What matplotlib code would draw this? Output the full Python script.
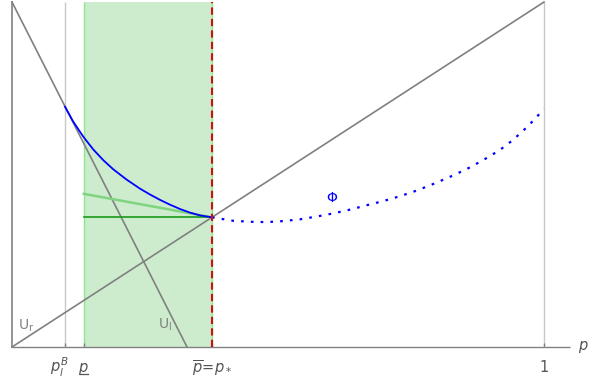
import numpy as np
import matplotlib
matplotlib.use("Agg")
import matplotlib.pyplot as plt

plt.rcParams["mathtext.fontset"] = "dejavusans"

# key points on the p axis
p_lB = 0.0996
p_low = 0.135
p_star = 0.376
p_ul_zero = 0.329

# Phi on [p_lB, p_star] (solid) and beyond (dotted)
phi_solid_p = [0.0996, 0.1152, 0.1340, 0.1528, 0.1716, 0.1904, 0.2156, 0.2406, 0.2594,
               0.2782, 0.2970, 0.3158, 0.3346, 0.3534, 0.3760]
phi_solid_y = [0.6965, 0.6530, 0.6096, 0.5725, 0.5415, 0.5150, 0.4850, 0.4590, 0.4420,
               0.4265, 0.4125, 0.4000, 0.3895, 0.3815, 0.3759]
phi_dot_p = [0.376, 0.415, 0.447, 0.479, 0.510, 0.541, 0.572, 0.603, 0.635, 0.667, 0.698,
             0.729, 0.760, 0.791, 0.823, 0.855, 0.886, 0.917, 0.940, 0.961, 0.981, 1.0]
phi_dot_y = [0.3759, 0.366, 0.363, 0.362, 0.365, 0.370, 0.378, 0.387, 0.398, 0.411, 0.423,
             0.437, 0.453, 0.472, 0.493, 0.516, 0.542, 0.571, 0.598, 0.627, 0.658, 0.690]

# green segments
flat_y = 0.3759
slope_start_y = 0.444

gray = "#808080"
light_gray = "#c8c8c8"
label_gray = "#555555"

fig = plt.figure(figsize=(5.89, 3.83), dpi=100)
ax = fig.add_axes([0, 0, 1, 1])
ax.set_xlim(-12 / 532, 577 / 532)
ax.set_ylim(-36 / 345, 347 / 345)
ax.axis("off")

# shaded interval
ax.fill_between([p_low, p_star], 0, 1, color="#cdeccd", lw=0)
ax.vlines([p_low, p_star], 0, 1, color="#8de88d", lw=1)

# axes
ax.plot([0, 1.049], [0, 0], color=gray, lw=1, solid_capstyle="butt")
ax.plot([0, 0], [0, 1], color=gray, lw=1.2)
ax.vlines([p_lB, 1], 0, 1, color=light_gray, lw=1)
ax.vlines([p_lB, p_low, p_star, 1], 0, 0.012, color=gray, lw=1)

# U_l and U_r
ax.plot([0, p_ul_zero], [1, 0], color=gray, lw=1.2)
ax.plot([0, 1], [0, 1], color=gray, lw=1.2)

# green lines
ax.plot([p_low, p_star], [slope_start_y, flat_y], color="#7fd47f", lw=1.8)
ax.plot([p_low, p_star], [flat_y, flat_y], color="#1a9a1a", lw=1.2)

# Phi
ax.plot(phi_solid_p, phi_solid_y, color="#0000ff", lw=1.3)
ax.plot(phi_dot_p, phi_dot_y, color="#0000ff", lw=1.6, linestyle=(0, (1.2, 3.2)))

# red dashed
ax.plot([p_star, p_star], [0, 1], color="#cc1111", lw=1.5, linestyle=(0, (3.5, 2)))

# labels
ax.text(0.026, 0.062, r"U$_\mathrm{r}$", color=gray, fontsize=10, ha="center", va="center")
ax.text(0.288, 0.064, r"U$_\mathrm{l}$", color=gray, fontsize=10, ha="center", va="center")
ax.text(0.601, 0.431, "Φ", color="#0000ff", fontsize=10, ha="center", va="center")

ty = -0.058
ax.text(p_lB - 0.01, ty, r"$p_l^B$", color=label_gray, fontsize=10.5, ha="center", va="center")
ax.text(p_low, ty - 0.005, r"$p$", color=label_gray, fontsize=10.5, ha="center", va="center")
ax.plot([p_low - 0.008, p_low + 0.008], [-0.077, -0.077], color=label_gray, lw=0.9)
ax.text(p_star, ty - 0.005, r"$\overline{p}\!=\!p_*$", color=label_gray, fontsize=10.5,
        ha="center", va="center")
ax.text(1, ty, "1", color=label_gray, fontsize=10.5, ha="center", va="center")
ax.text(1.063, 0.0, r"$p$", color=label_gray, fontsize=10.5, ha="left", va="center")

fig.savefig("out.png", dpi=100)
